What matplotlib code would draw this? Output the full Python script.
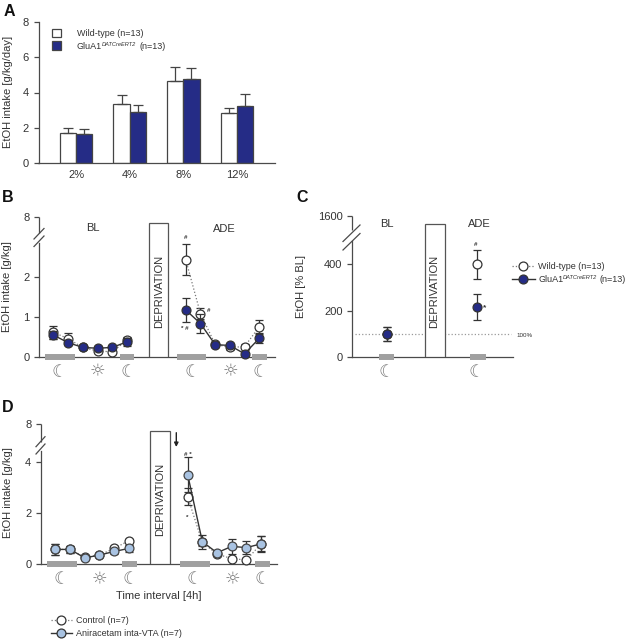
import numpy as np
import matplotlib
matplotlib.use('Agg')
import matplotlib.pyplot as plt
from matplotlib.lines import Line2D
from matplotlib.patches import Patch, FancyArrowPatch

plt.rcParams['font.family'] = ['Liberation Sans', 'DejaVu Sans']

W, H = 627, 639
AXC = '#4a4a4a'
TXT = '#333333'
NAVY = '#252c86'
LBLUE = '#a9c3e2'
GRAY = '#a0a0a0'

# panel A
conc = ['2%', '4%', '8%', '12%']
a_wt = [1.72, 3.36, 4.68, 2.84]
a_wt_err = [0.28, 0.48, 0.78, 0.25]
a_glu = [1.63, 2.89, 4.78, 3.25]
a_glu_err = [0.27, 0.40, 0.62, 0.68]

# panel B, 6 intervals each for BL and ADE
b_wt_bl = [0.62, 0.46, 0.24, 0.15, 0.13, 0.42]
b_wt_bl_err = [0.17, 0.14, 0.03, 0.04, 0.05, 0.08]
b_glu_bl = [0.55, 0.36, 0.24, 0.22, 0.24, 0.38]
b_glu_bl_err = [0.11, 0.06, 0.03, 0.05, 0.04, 0.10]
b_wt_ade = [2.44, 1.09, 0.32, 0.24, 0.26, 0.76]
b_wt_ade_err = [0.39, 0.14, 0.05, 0.06, 0.07, 0.16]
b_glu_ade = [1.18, 0.84, 0.31, 0.29, 0.08, 0.47]
b_glu_ade_err = [0.31, 0.24, 0.06, 0.07, 0.04, 0.11]

# panel C
c_wt = [100, 400]
c_wt_err = [30, 63]
c_glu = [100, 215]
c_glu_err = [30, 57]

# panel D
d_ctl_bl = [0.58, 0.58, 0.27, 0.36, 0.62, 0.92]
d_ctl_bl_err = [0.20, 0.15, 0.05, 0.05, 0.08, 0.07]
d_ani_bl = [0.58, 0.58, 0.25, 0.36, 0.50, 0.62]
d_ani_bl_err = [0.20, 0.15, 0.05, 0.05, 0.08, 0.13]
d_ctl_ade = [2.63, 0.85, 0.40, 0.22, 0.17, 0.80]
d_ctl_ade_err = [0.33, 0.15, 0.06, 0.05, 0.06, 0.30]
d_ani_ade = [3.50, 0.88, 0.45, 0.70, 0.65, 0.80]
d_ani_ade_err = [0.68, 0.27, 0.07, 0.30, 0.25, 0.32]

fig = plt.figure(figsize=(W / 100, H / 100), dpi=100)


def px_axes(left, top, right, bottom):
    ax = fig.add_axes([left / W, 1 - bottom / H, (right - left) / W, (bottom - top) / H])
    ax.patch.set_alpha(0)
    for s in ['top', 'right']:
        ax.spines[s].set_visible(False)
    for s in ['left', 'bottom']:
        ax.spines[s].set_color(AXC)
        ax.spines[s].set_linewidth(0.9)
    ax.tick_params(axis='y', length=3.8, width=0.9, color=AXC, labelcolor=TXT, labelsize=8, pad=3)
    ax.tick_params(axis='x', length=0, labelcolor=TXT, labelsize=8)
    return ax


def ftext(x, y, s, **kw):
    kw.setdefault('ha', 'center')
    kw.setdefault('va', 'center')
    kw.setdefault('color', TXT)
    kw.setdefault('fontsize', 8)
    return fig.text(x / W, 1 - y / H, s, **kw)


def fline(xs, ys, **kw):
    kw.setdefault('color', AXC)
    kw.setdefault('lw', 0.9)
    fig.add_artist(Line2D([x / W for x in xs], [1 - y / H for y in ys], **kw))


def broken_y(ax, brk, hi_start, top, disp_top):
    # piecewise linear scale: compressed section above the break
    xp = [0, brk, top]
    fp = [0, brk, disp_top]
    ax.set_yscale('function', functions=(lambda v: np.interp(v, xp, fp),
                                         lambda v: np.interp(v, fp, xp)))
    ax.set_ylim(0, top)
    ax.spines['left'].set_bounds(0, brk)
    x0 = ax.get_xlim()[0]
    ax.plot([x0, x0], [hi_start, top], color=AXC, lw=0.9, clip_on=False, solid_capstyle='butt')
    ax.minorticks_off()


def deprivation(ax, x0, x1, top, px_x, px_y):
    ax.bar((x0 + x1) / 2, top, x1 - x0, facecolor='white', edgecolor='#555555', linewidth=0.9, zorder=3)
    ftext(px_x, px_y, 'DEPRIVATION', rotation=90, fontsize=8, zorder=5)


def dark_bar(ax, x0, x1):
    trans = ax.get_xaxis_transform()
    ax.plot([x0, x1], [0, 0], color=GRAY, lw=4.3, solid_capstyle='butt', clip_on=False, zorder=4,
            transform=trans)


def series(ax, x, y, err, mfc, mec, ls, lc, z):
    ax.errorbar(x, y, yerr=err, color=lc, ls=ls, lw=1.0 if ls == '-' else 0.9, marker='o', ms=6.4,
                mfc=mfc, mec=mec, mew=0.9, ecolor='#333333', elinewidth=0.9, capsize=3.2, capthick=0.9,
                zorder=z, clip_on=False)


def glu_super(x_sup, x_n, y):
    # GluA1 superscript and the n label, legend only holds the plain name
    ftext(x_sup, y - 2.5, 'DATCreERT2', ha='left', fontsize=4.1, style='italic')
    ftext(x_n, y, '(n=13)', ha='left', fontsize=6.5)


def line_handle(mfc, solid):
    if solid:
        return Line2D([], [], color='#333333', ls='-', lw=1.0, marker='o', ms=6.4, mfc=mfc, mec='#333333', mew=0.9)
    return Line2D([], [], color='#777777', ls=':', lw=0.9, marker='o', ms=6.4, mfc=mfc, mec='#333333', mew=0.9)


MOON = '\u263e'
SUN = '\u263c'


def icon(x, y, s):
    ftext(x, y, s, family='DejaVu Sans', fontsize=12.5, color='#777777')


# A
ax = px_axes(38.5, 22.3, 275, 162.7)
xa = np.arange(4)
bw = 0.304
ax.set_xlim(-0.70, 3.71)
ax.set_ylim(0, 8)
ax.bar(xa - bw / 2, a_wt, bw, color='white', edgecolor='#444444', lw=0.9,
       yerr=[[0] * 4, a_wt_err], ecolor='#444444', error_kw=dict(elinewidth=0.9, capsize=3.6, capthick=0.9))
ax.bar(xa + bw / 2, a_glu, bw, color=NAVY, edgecolor='#444444', lw=0.9,
       yerr=[[0] * 4, a_glu_err], ecolor='#444444', error_kw=dict(elinewidth=0.9, capsize=3.6, capthick=0.9))
ax.set_yticks([0, 2, 4, 6, 8])
ax.set_xticks(xa)
ax.set_xticklabels(conc)
ax.tick_params(axis='x', pad=5.5)
ftext(8.5, 92, 'EtOH intake [g/kg/day]', rotation=90)
ax.legend(handles=[Patch(fc='white', ec='#444444', lw=0.9), Patch(fc=NAVY, ec='#444444', lw=0.9)],
          labels=['Wild-type (n=13)', 'GluA1'], loc='upper left', bbox_to_anchor=(51.7 / W, 1 - 28.5 / H),
          bbox_transform=fig.transFigure, frameon=False, fontsize=6.5, borderpad=0, borderaxespad=0,
          handlelength=1.03, handleheight=1.03, handletextpad=1.74, labelspacing=0.4, labelcolor=TXT)
glu_super(101.5, 139, 46.5)

# B
ax = px_axes(38.7, 216.7, 275, 357)
ax.set_xlim(-1, 15.07)
broken_y(ax, 2.85, 4.9, 8, 3.52)
ax.set_yticks([0, 1, 2, 8])
ax.set_yticklabels(['0', '1', '2', '8'])
ax.set_xticks([])
bl = np.arange(6)
ade = np.arange(9, 15)
series(ax, bl, b_wt_bl, b_wt_bl_err, 'white', '#333333', ':', '#777777', 5)
series(ax, ade, b_wt_ade, b_wt_ade_err, 'white', '#333333', ':', '#777777', 5)
series(ax, bl, b_glu_bl, b_glu_bl_err, NAVY, '#333333', '-', '#333333', 6)
series(ax, ade, b_glu_ade, b_glu_ade_err, NAVY, '#333333', '-', '#333333', 6)
deprivation(ax, 6.49, 7.82, 6.8, 159, 291.7)
for x0, x1 in [(-0.59, 1.48), (4.5, 5.5), (8.4, 10.4), (13.5, 14.5)]:
    dark_bar(ax, x0, x1)
ftext(7.5, 287, 'EtOH intake [g/kg]', rotation=90)
ftext(93, 227.7, 'BL')
ftext(224.3, 228.7, 'ADE')
for x, s in [(59, MOON), (97.7, SUN), (128, MOON), (192, MOON), (230, SUN), (260, MOON)]:
    icon(x, 371.7, s)
fline([34, 44], [239, 228.5])
fline([34, 44], [246.5, 236])
for x, y, s in [(185.5, 237.5, '#'), (184.5, 329, '* #'), (209, 311, '#')]:
    ftext(x, y, s, fontsize=4.5, fontweight='bold')

# C
ax = px_axes(352, 216.3, 512.7, 357)
ax.set_xlim(-0.395, 1.403)
broken_y(ax, 500, 970, 1600, 606)
ax.set_yticks([0, 200, 400, 1600])
ax.set_yticklabels(['0', '200', '400', '1600'])
ax.set_xticks([])
xc = np.arange(2)
ax.plot([-0.36, 1.38], [100, 100], color='#999999', ls=':', lw=0.9, zorder=1)
series(ax, xc, c_wt, c_wt_err, 'white', '#333333', 'none', '#333333', 5)
series(ax, xc, c_glu, c_glu_err, NAVY, '#333333', 'none', '#333333', 6)
deprivation(ax, 0.421, 0.641, 1274, 434.5, 291)
dark_bar(ax, -0.09, 0.08)
dark_bar(ax, 0.93, 1.10)
ftext(300.5, 287, 'EtOH [% BL]', rotation=90)
ftext(386.7, 224, 'BL')
ftext(479, 224, 'ADE')
ftext(525, 335.3, '100%', fontsize=4.5)
icon(386, 372, MOON)
icon(476.5, 372, MOON)
fline([343, 360], [250, 233.5])
fline([343, 360], [241.5, 225])
ftext(476, 244, '#', fontsize=4.5, fontweight='bold')
ftext(485, 308, '*', fontsize=6, fontweight='bold')
ax.legend(handles=[line_handle('white', False), line_handle(NAVY, True)],
          labels=['Wild-type (n=13)', 'GluA1'], loc='upper left', bbox_to_anchor=(512 / W, 1 - 262 / H),
          bbox_transform=fig.transFigure, frameon=False, fontsize=6.5, borderpad=0, borderaxespad=0,
          handlelength=2.5, handletextpad=0.4, labelspacing=0.45, labelcolor=TXT)
glu_super(562.5, 600, 280)

# D
ax = px_axes(40.7, 424, 277.3, 564.3)
ax.set_xlim(-1, 15.1)
broken_y(ax, 4.42, 5.65, 8, 5.47)
ax.set_yticks([0, 2, 4, 8])
ax.set_yticklabels(['0', '2', '4', '8'])
ax.set_xticks([])
series(ax, bl, d_ctl_bl, d_ctl_bl_err, 'white', '#333333', ':', '#777777', 5)
series(ax, ade, d_ctl_ade, d_ctl_ade_err, 'white', '#333333', ':', '#777777', 5)
series(ax, bl, d_ani_bl, d_ani_bl_err, LBLUE, '#444444', '-', '#333333', 6)
series(ax, ade, d_ani_ade, d_ani_ade_err, LBLUE, '#444444', '-', '#333333', 6)
deprivation(ax, 6.47, 7.78, 7.07, 160.5, 499)
for x0, x1 in [(-0.59, 1.49), (4.51, 5.56), (8.47, 10.53), (13.57, 14.6)]:
    dark_bar(ax, x0, x1)
ftext(8.5, 493, 'EtOH intake [g/kg]', rotation=90)
ftext(159, 596, 'Time interval [4h]')
for x, s in [(61, MOON), (99.3, SUN), (130, MOON), (194.3, MOON), (232.3, SUN), (262.3, MOON)]:
    icon(x, 579, s)
fline([36, 45], [446.7, 436.7])
fline([36, 45], [454, 444])
for x, y, s in [(187.5, 454, '# *'), (187, 517, '*')]:
    ftext(x, y, s, fontsize=4.5, fontweight='bold')
fig.add_artist(FancyArrowPatch((176.3 / W, 1 - 432.7 / H), (176.3 / W, 1 - 447 / H),
               transform=fig.transFigure, arrowstyle='-|>', mutation_scale=6, color='#222222', lw=1, shrinkA=0, shrinkB=0))
ax.legend(handles=[line_handle('white', False), line_handle(LBLUE, True)],
          labels=['Control (n=7)', 'Aniracetam inta-VTA (n=7)'], loc='upper left', bbox_to_anchor=(51 / W, 1 - 616 / H),
          bbox_transform=fig.transFigure, frameon=False, fontsize=6.5, borderpad=0, borderaxespad=0,
          handlelength=2.3, handletextpad=0.5, labelspacing=0.45, labelcolor=TXT)

# panel letters
for x, y, s in [(9, 11, 'A'), (8, 198, 'B'), (302, 197.7, 'C'), (8, 407, 'D')]:
    ftext(x, y, s, fontsize=11.5, fontweight='bold', color='#111111')

fig.savefig('out.png', dpi=100)
